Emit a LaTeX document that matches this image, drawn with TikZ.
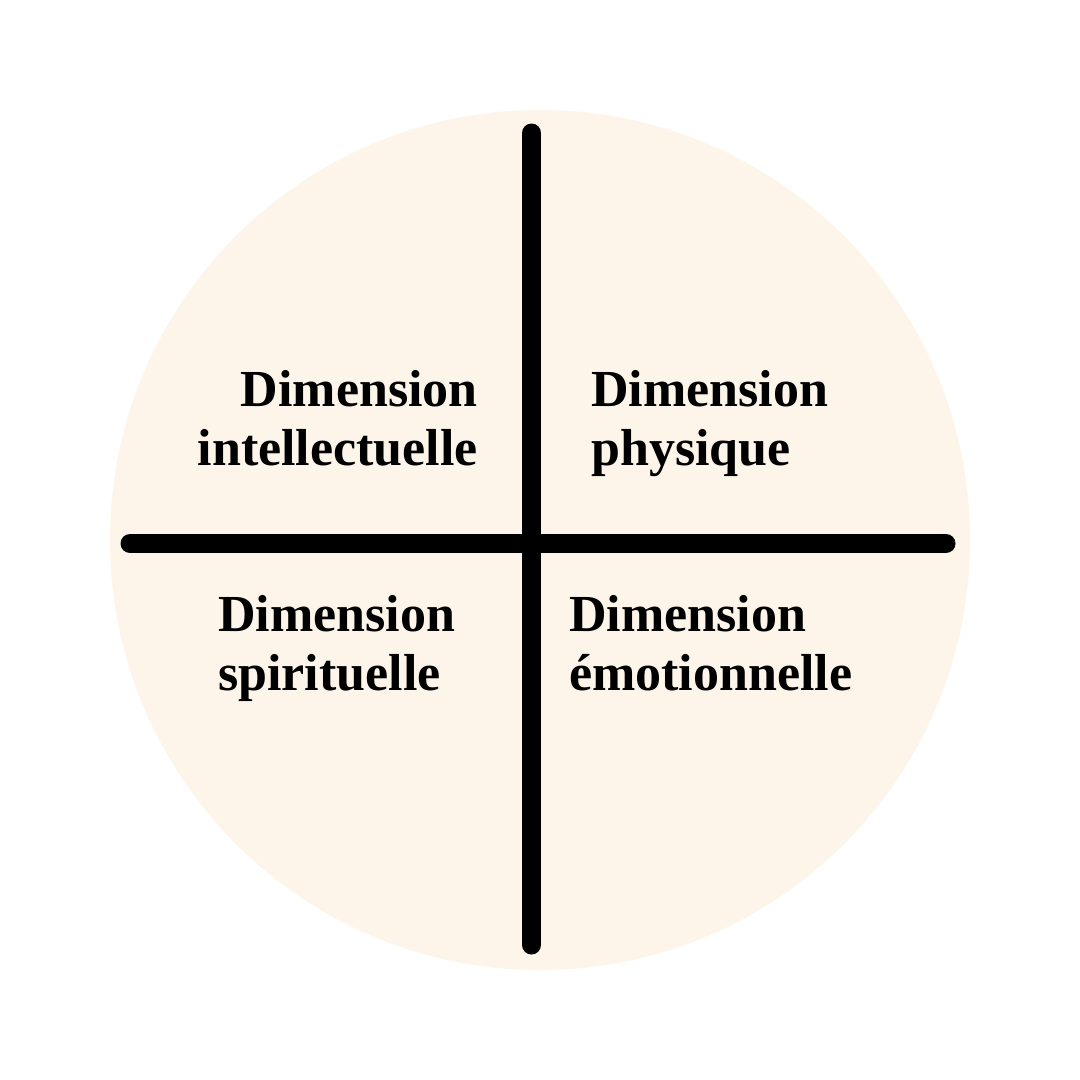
\documentclass[tikz,border=0pt]{standalone}
\usepackage{fontspec}
\setmainfont{Liberation Serif}
\definecolor{cream}{HTML}{FDF5E9}
\tikzset{
  axis/.style={line width=19pt, line cap=round, draw=black},
  label/.style={inner sep=0pt, font=\bfseries\fontsize{52}{59}\selectfont},
}
\begin{document}
\begin{tikzpicture}[x=1pt,y=-1pt]
\useasboundingbox[fill=white] (0,0) rectangle (1080,1080);
\fill[cream] (540,540) circle[radius=430];
\coordinate (vt) at (531.5,133);
\coordinate (vb) at (531.5,945);
\coordinate (hl) at (130,543.5);
\coordinate (hr) at (946,543.5);
\draw[axis] (vt) -- (vb);
\draw[axis] (hl) -- (hr);
\node[label, anchor=base east, align=right] (intel) at (478,465) {Dimension\\intellectuelle};
\node[label, anchor=base west, align=left] (phys) at (591,465) {Dimension\\physique};
\node[label, anchor=base west, align=left] (spir) at (218,690) {Dimension\\spirituelle};
\node[label, anchor=base west, align=left] (emo) at (569,690) {Dimension\\émotionnelle};
\end{tikzpicture}
\end{document}
